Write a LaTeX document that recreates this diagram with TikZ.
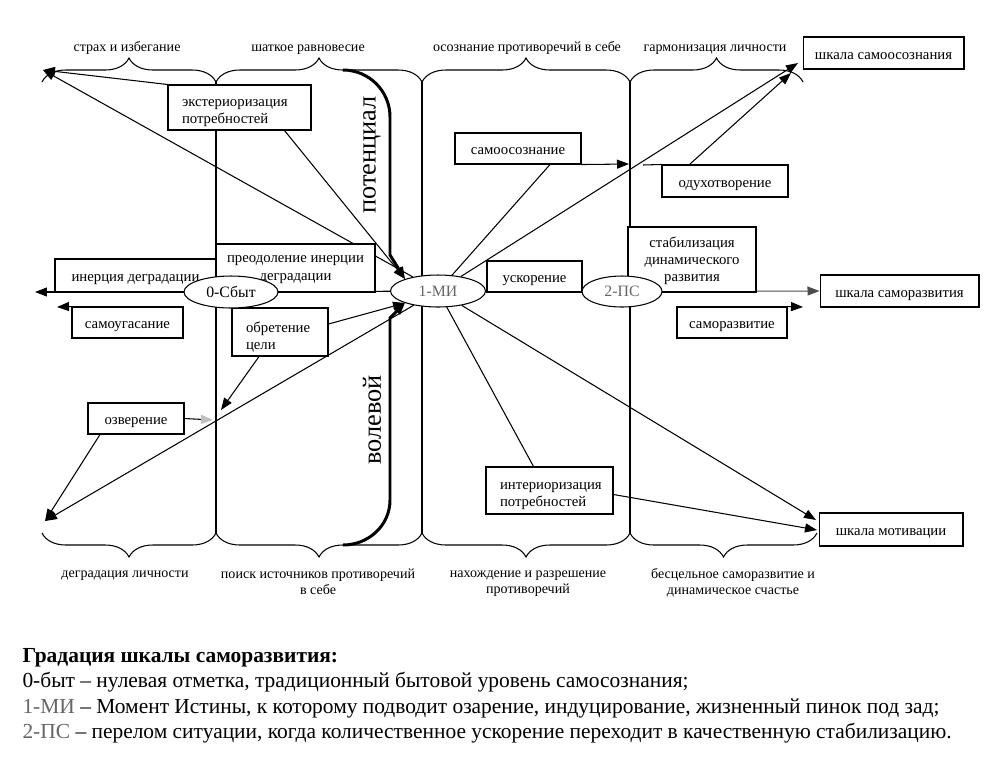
\documentclass[tikz,border=0pt]{standalone}
\usepackage{fontspec}
\setmainfont{Liberation Serif}
\usetikzlibrary{arrows.meta,shapes.geometric,decorations.pathreplacing,calc,backgrounds}
\definecolor{mitext}{gray}{0.4}

\begin{document}
\begin{tikzpicture}[x=0.02cm,y=-0.02cm,
    box/.style={draw,fill=white,inner sep=0pt,line width=0.6pt,font=\fontsize{8.4}{9.7}\selectfont},
    box1/.style={box,text height=7pt,text depth=0pt},
    boxc/.style={box,align=center,text depth=-1.5pt},
    boxl/.style={box,align=left,text depth=5pt,inner xsep=0.28cm},
    oval/.style={ellipse,draw,fill=white,inner sep=0pt,line width=0.6pt,font=\fontsize{9}{10}\selectfont},
    arr/.style={-{Triangle[length=2.4mm,width=1.8mm]}},
    brc/.style={decorate,decoration={brace,amplitude=0.48cm},line width=0.6pt},
    bracetext/.style={font=\fontsize{8}{9.1}\selectfont,align=center,inner sep=0pt},
    toptext/.style={bracetext,text height=1.6ex,text depth=0.45ex},
    lowtext/.style={bracetext,anchor=north},
    thk/.style={line width=1.7pt},
    every path/.style={line width=0.6pt}
  ]
  \useasboundingbox (0,0) rectangle (1000,762);

  % boxes, left part
  \node[boxl,text width=2.3cm,minimum height=0.9cm] (ext) at (239.5,107.5) {экстериоризация\\потребностей};
  \node[box1,minimum width=3.22cm,minimum height=0.66cm] (inert) at (135.5,275.5) {инерция деградации};
  \node[boxc,minimum width=3.18cm,minimum height=0.96cm] (preod) at (295.5,268) {преодоление инерции\\деградации};
  \node[box1,minimum width=2.22cm,minimum height=0.62cm] (ugas) at (127.5,322.5) {самоугасание};
  \node[boxl,text width=1.36cm,minimum height=0.96cm] (obret) at (280,332) {обретение\\цели};
  \node[box1,minimum width=1.92cm,minimum height=0.62cm] (ozv) at (136,418.5) {озверение};

  % boxes, right part
  \node[box1,minimum width=2.52cm,minimum height=0.62cm] (samoos) at (518,148.5) {самоосознание};
  \node[box1,minimum width=2.52cm,minimum height=0.64cm] (oduh) at (725,181) {одухотворение};
  \node[box1,minimum width=1.9cm,minimum height=0.62cm] (uskor) at (534.5,276.5) {ускорение};
  \node[boxc,minimum width=2.56cm,minimum height=1.3cm] (stab) at (692,259.5) {стабилизация\\динамического\\развития};
  \node[box1,minimum width=2.2cm,minimum height=0.62cm] (samorazv) at (732,322.5) {саморазвитие};
  \node[boxl,text width=1.98cm,minimum height=0.94cm] (inter) at (549.5,490.5) {интериоризация\\потребностей};

  % scales
  \node[box1,minimum width=3.22cm,minimum height=0.64cm] (shsoz) at (883.5,53) {шкала самоосознания};
  \node[box1,minimum width=3.18cm,minimum height=0.64cm] (shrazv) at (899.5,291) {шкала саморазвития};
  \node[box1,minimum width=2.88cm,minimum height=0.66cm] (shmot) at (891,529.5) {шкала мотивации};

  % stages
  \node[oval,minimum width=1.88cm,minimum height=0.64cm] (zero) at (231,292) {0-Сбыт};
  \node[oval,minimum width=1.9cm,minimum height=0.64cm,text=mitext] (mi) at (438,291) {1-МИ};
  \node[oval,minimum width=1.6cm,minimum height=0.62cm,text=mitext] (ps) at (622,291.5) {2-ПС};

  % free ends
  \coordinate (tl) at (43,70);
  \coordinate (bl) at (45,521);
  \coordinate (lend) at (35,292);
  \coordinate (sz1) at (798,63);
  \coordinate (sz2) at (791,73);
  \coordinate (sm1) at (816,520);
  \coordinate (sm2) at (817,530);
  \coordinate (obtip) at (221,410);
  \coordinate (oztip) at (213,420);
  \coordinate (sotip) at (629,164);
  \coordinate (odend) at (643,165);
  \coordinate (ugtip) at (57,307);
  \coordinate (srtip) at (803,307);

  % brace captions
  \node[toptext] (fear) at (127,47) {страх и избегание};
  \node[toptext] (balance) at (308,47) {шаткое равновесие};
  \node[toptext] (aware) at (527,47) {осознание противоречий в себе};
  \node[toptext] (harmony) at (715,47) {гармонизация личности};
  \node[lowtext] (degr) at (125,568) {\vphantom{Бд}деградация личности};
  \node[lowtext] (search) at (318,568) {\vphantom{Бд}поиск источников противоречий\\в себе};
  \node[lowtext] (resolve) at (528,568) {\vphantom{Бд}нахождение и разрешение\\противоречий};
  \node[lowtext] (happy) at (733,568) {\vphantom{Бд}бесцельное саморазвитие и\\динамическое счастье};

  \node[rotate=90,font=\fontsize{15}{15}\selectfont] (pot) at (372,155) {потенциал};
  \node[rotate=90,font=\fontsize{15}{15}\selectfont] (vol) at (372,420) {волевой};

  \begin{scope}[on background layer]
    % braces and column lines
    \draw[brc] (42,82) -- (216,82);
    \draw[brc] (216,82) -- (422,82);
    \draw[brc] (422,82) -- (630,82);
    \draw[brc] (630,82) -- (803,82);
    \draw[brc] (216,533) -- (42,533);
    \draw[brc] (422,533) -- (216,533);
    \draw[brc] (630,533) -- (422,533);
    \draw[brc] (817,533) -- (630,533);
    \foreach \x in {216,422,630}
      \draw (\x,82) -- (\x,533);

    % axis
    \draw[arr] (zero) -- (lend);
    \draw (zero) -- (mi);
    \draw (mi) -- (ps);
    \draw[arr,black!70] (ps) -- (shrazv.west);
    \draw[arr] (ugas.north west) -- (ugtip);
    \draw[arr] (samorazv.north east) -- (srtip);

    % potential and will
    \draw[thk,arr] (343,70) to[out=0,in=90] (390,117) -- (390,255) -- (mi.160);
    \draw[thk,arr] (343,545) to[out=0,in=-90] (390,500) -- (390,318) -- (mi.200);

    % left side
    \draw[arr] (ext.north west) -- (tl);
    \draw[arr] (mi) -- (tl);
    \draw[arr] ($(ext.south)+(45,0)$) -- (mi.160);
    \draw[arr] ($(obret.east)+(0,-8)$) -- (mi.200);
    \draw[arr] (mi) -- (bl);
    \draw[arr] ($(obret.south)+(-21,0)$) -- (obtip);
    \draw[-{Triangle[length=2.4mm,width=1.8mm,color=black!25]}] (ozv.east) -- (oztip);
    \draw[arr] ($(ozv.south)+(-36,0)$) -- (bl);

    % right side
    \draw ($(samoos.south)+(32,0)$) -- (mi);
    \draw[arr] (mi) -- (sz1);
    \draw[arr] ($(oduh.north west)+(28,0)$) -- (sz2);
    \draw[arr] (samoos.south east) -- (sotip);
    \draw (oduh.north west) -- (odend);
    \draw[arr] (mi) -- (sm1);
    \draw (mi) -- ($(inter.north)+(-16,0)$);
    \draw[arr] ($(inter.east)+(0,4)$) -- (sm2);
  \end{scope}

  % legend
  \node[anchor=north west,align=left,inner sep=0pt,font=\fontsize{12.2}{14.4}\selectfont] (legend) at (22,648)
    {\textbf{Градация шкалы саморазвития:}\\
     0-быт – нулевая отметка, традиционный бытовой уровень самосознания;\\
     \textcolor{mitext}{1-МИ} – Момент Истины, к которому подводит озарение, индуцирование, жизненный пинок под зад;\\
     \textcolor{mitext}{2-ПС} – перелом ситуации, когда количественное ускорение переходит в качественную стабилизацию.};
\end{tikzpicture}
\end{document}
